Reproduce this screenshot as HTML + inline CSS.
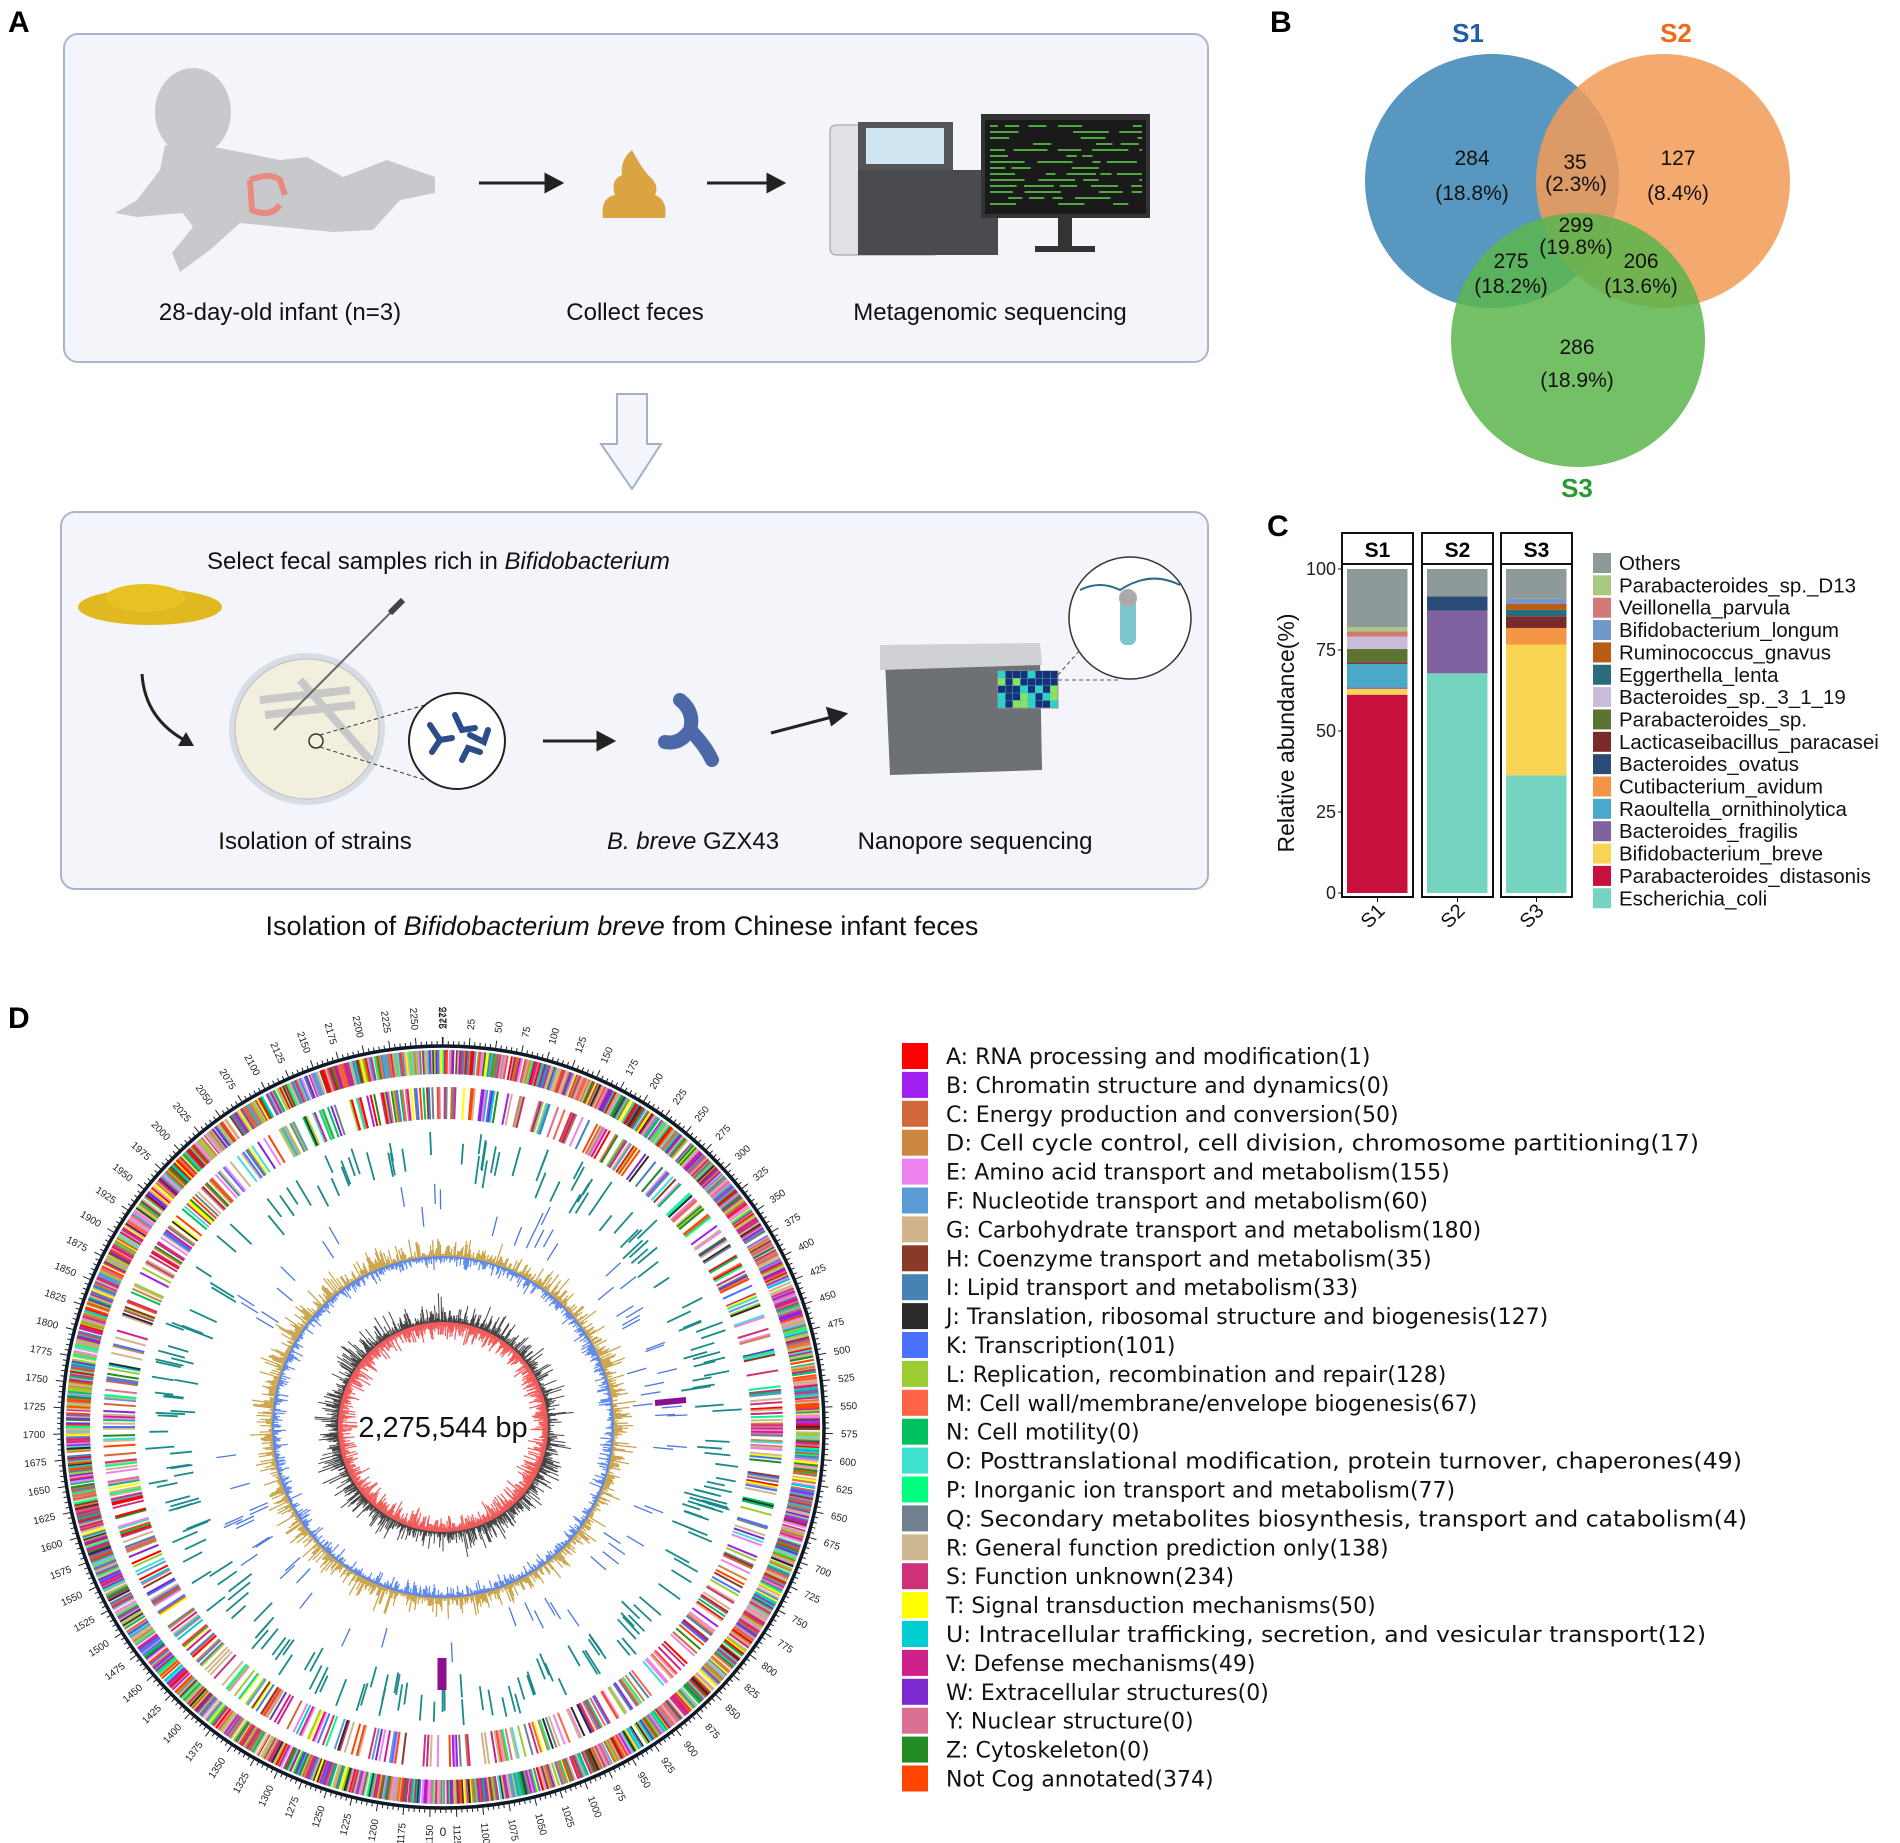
<!DOCTYPE html>
<html><head><meta charset="utf-8"><style>
html,body{margin:0;padding:0;background:#fff}
svg{display:block}
text{font-family:"Liberation Sans",sans-serif}
.lg text{font-family:"DejaVu Sans","Liberation Sans",sans-serif}
</style></head><body>
<svg id="s" width="1900" height="1843" viewBox="0 0 1900 1843" xmlns="http://www.w3.org/2000/svg">
<g font-weight="bold" font-size="30">
<text x="8" y="32">A</text><text x="1270" y="32">B</text><text x="1267" y="536">C</text><text x="8" y="1028">D</text>
</g>
<rect x="64" y="34" width="1144" height="328" rx="14" fill="#f3f5fa" stroke="#a9b5cd" stroke-width="2"/>
<rect x="61" y="512" width="1147" height="377" rx="14" fill="#f3f5fa" stroke="#a9b5cd" stroke-width="2"/>
<path d="M617 394 H647 V444 H661 L632 489 L601 444 H617 Z" fill="#f3f5fa" stroke="#a3b0c8" stroke-width="2"/>
<ellipse cx="193" cy="112" rx="38" ry="44" fill="#c8c9cd"/>
<path d="M165 145 L220 148 L280 160 L307 157 L343 177 L387 160 L435 177 L435 193 L400 200 L373 230 L333 232 L240 223 L210 250 L180 272 L172 253 L193 227 L183 213 L137 217 L115 213 L137 200 L160 170 Z" fill="#c8c9cd"/>
<path d="M250 180 Q270 172 280 180 L285 195 M250 180 L252 210 Q270 218 280 205" fill="none" stroke="#e88a80" stroke-width="6"/>
<g stroke="#222" stroke-width="3" fill="#222">
<line x1="479" y1="183" x2="548" y2="183"/><path d="M561 183 L546 175 L546 191 Z"/>
<line x1="707" y1="183" x2="770" y2="183"/><path d="M783 183 L768 175 L768 191 Z"/>
<line x1="543" y1="741" x2="600" y2="741"/><path d="M613 741 L598 733 L598 749 Z"/>
<line x1="771" y1="733" x2="832" y2="717"/><path d="M845 714 L828 709 L832 724 Z"/>
</g>
<path d="M603 218 Q600 198 615 195 Q610 180 622 175 Q620 160 632 150 Q640 165 648 175 Q660 185 655 195 Q668 200 665 218 Z" fill="#d9a441"/>
<rect x="830" y="125" width="110" height="130" rx="6" fill="#dfe1e4" stroke="#999"/>
<rect x="858" y="122" width="95" height="48" fill="#555"/>
<rect x="866" y="128" width="78" height="36" fill="#cfe6f0"/>
<rect x="858" y="170" width="140" height="85" fill="#4a4b4e"/>
<rect x="981" y="114" width="169" height="104" fill="#333"/>
<rect x="985" y="120" width="161" height="94" fill="#1a1a1a"/>
<g stroke="#5ed84a" stroke-width="1.5" id="code"></g>
<rect x="1058" y="218" width="14" height="28" fill="#333"/><rect x="1035" y="246" width="60" height="6" fill="#333"/>
<g font-size="24" text-anchor="middle" fill="#111">
<text x="280" y="320">28-day-old infant (n=3)</text>
<text x="635" y="320">Collect feces</text>
<text x="990" y="320">Metagenomic sequencing</text>
<text x="207" y="569" text-anchor="start">Select fecal samples rich in <tspan font-style="italic">Bifidobacterium</tspan></text>
<text x="315" y="849">Isolation of strains</text>
<text x="693" y="849"><tspan font-style="italic">B. breve</tspan> GZX43</text>
<text x="975" y="849">Nanopore sequencing</text>
<text x="622" y="935" font-size="27">Isolation of <tspan font-style="italic">Bifidobacterium breve</tspan> from Chinese infant feces</text>
</g>
<ellipse cx="150" cy="607" rx="72" ry="18" fill="#e0b820"/>
<ellipse cx="145" cy="598" rx="40" ry="14" fill="#e8c222"/>
<path d="M142 674 Q145 720 188 742" fill="none" stroke="#222" stroke-width="3"/><path d="M194 746 L178 746 L186 732 Z" fill="#222"/>
<ellipse cx="307" cy="729" rx="78" ry="76" fill="#d8dde5"/>
<ellipse cx="307" cy="729" rx="72" ry="70" fill="#f3efdf" stroke="#bbb"/>
<path d="M260 700 L350 690 M265 715 L355 705 M300 680 L370 760" stroke="#b5b8bd" stroke-width="8" fill="none" opacity=".7"/>
<line x1="403" y1="600" x2="274" y2="730" stroke="#666" stroke-width="2"/>
<line x1="403" y1="600" x2="390" y2="613" stroke="#444" stroke-width="6"/>
<circle cx="316" cy="741" r="7" fill="none" stroke="#333" stroke-width="1.5"/>
<line x1="320" y1="735" x2="425" y2="705" stroke="#333" stroke-dasharray="4 3"/>
<line x1="320" y1="747" x2="425" y2="780" stroke="#333" stroke-dasharray="4 3"/>
<circle cx="457" cy="741" r="48" fill="#fff" stroke="#222" stroke-width="2"/>
<g stroke="#2b4d8a" stroke-width="6" stroke-linecap="round" fill="none">
<path d="M430 725 L440 740 L432 752 M440 740 L452 738"/><path d="M455 715 L462 730 L475 728"/><path d="M462 760 L468 748 L480 752"/><path d="M470 735 L484 742 L488 730"/>
</g>
<path d="M680 700 Q695 712 690 730 Q680 745 665 742 M690 730 Q705 745 712 760" fill="none" stroke="#4c68a8" stroke-width="14" stroke-linecap="round"/>
<path d="M885 660 L1040 660 L1042 770 L890 775 Z" fill="#6d7074"/>
<path d="M880 645 L1040 643 L1042 665 L880 670 Z" fill="#cfd1d4"/>
<rect x="998" y="671" width="60" height="37" fill="#2fd0c8" stroke="#999"/>
<g id="grid"></g>
<circle cx="1130" cy="618" r="61" fill="#fff" stroke="#333" stroke-width="1.5"/>
<line x1="1058" y1="675" x2="1080" y2="650" stroke="#555" stroke-dasharray="4 3"/>
<line x1="1058" y1="680" x2="1120" y2="680" stroke="#555" stroke-dasharray="4 3"/>
<path d="M1080 590 Q1100 580 1120 590 Q1150 570 1180 585" fill="none" stroke="#2a6a8a" stroke-width="2"/>
<rect x="1120" y="595" width="16" height="50" rx="6" fill="#7cc6cf"/><circle cx="1128" cy="598" r="9" fill="#aaa"/>
<circle cx="1492" cy="181" r="127" fill="#4a8fbb" opacity=".92"/>
<circle cx="1663" cy="181" r="127" fill="#f29a56" opacity=".85"/>
<circle cx="1578" cy="340" r="127" fill="#5ab54c" opacity=".85"/>
<g font-size="26" font-weight="bold" text-anchor="middle">
<text x="1468" y="42" fill="#1f5fa8">S1</text><text x="1676" y="42" fill="#ee6a1a">S2</text><text x="1577" y="497" fill="#2a9a30">S3</text>
</g>
<g font-size="21" text-anchor="middle" fill="#111">
<text x="1472" y="165">284</text><text x="1472" y="200">(18.8%)</text>
<text x="1575" y="169">35</text><text x="1576" y="191">(2.3%)</text>
<text x="1678" y="165">127</text><text x="1678" y="200">(8.4%)</text>
<text x="1576" y="232">299</text><text x="1576" y="254">(19.8%)</text>
<text x="1511" y="268">275</text><text x="1511" y="293">(18.2%)</text>
<text x="1641" y="268">206</text><text x="1641" y="293">(13.6%)</text>
<text x="1577" y="354">286</text><text x="1577" y="387">(18.9%)</text>
</g>
<g id="bars"></g>
<g font-size="18" fill="#222" text-anchor="end">
<text x="1336" y="575">100</text><text x="1336" y="656">75</text><text x="1336" y="737">50</text><text x="1336" y="818">25</text><text x="1336" y="899">0</text>
</g>
<text transform="translate(1294,733) rotate(-90)" font-size="23" text-anchor="middle" fill="#111">Relative abundance(%)</text>
<g font-size="20" fill="#111" id="xl"></g>
<g id="leg" font-size="20.5" fill="#111"></g>
<g id="circ"></g>
<text x="443" y="1437" font-size="29" text-anchor="middle" fill="#111">2,275,544 bp</text>
<g class="lg" id="cog" font-size="22" fill="#111"></g>
</svg>
<script>
var NS="http://www.w3.org/2000/svg";
function el(p,t,a,txt){var e=document.createElementNS(NS,t);for(var k in a)e.setAttribute(k,a[k]);if(txt!==undefined)e.textContent=txt;p.appendChild(e);return e;}
var seed=7;function rnd(){seed=(seed*16807)%2147483647;return seed/2147483647;}
var code=document.getElementById('code');
for(var y=126;y<210;y+=6){var x=990;while(x<1140){var w=8+rnd()*30;if(rnd()>.3)el(code,'line',{x1:x,y1:y,x2:Math.min(x+w,1142),y2:y});x+=w+4+rnd()*10;}}
var grid=document.getElementById('grid');
for(var i=0;i<8;i++)for(var j=0;j<5;j++){var c=['#1b2e7a','#2fd0c8','#8fe05a','#1b2e7a'][Math.floor(rnd()*4)];el(grid,'rect',{x:998+i*7.5,y:671+j*7.4,width:7,height:7,fill:c});}
var bars=document.getElementById('bars');
var col={oth:'#8e9a9a',d13:'#a8c97f',vei:'#d07a78',lon:'#7098c8',rum:'#b85b14',egg:'#2a6b7c',b3:'#c9bcd8',psp:'#5c7332',lac:'#7a2a2a',ova:'#2a4a78',cut:'#f49545',rao:'#4aa8c8',fra:'#8062a0',bre:'#f8d452',dis:'#c8103c',eco:'#74d4c0'};
var data=[
[1347,[['dis',61.2],['bre',1.8],['fra',.5],['rao',7.2],['lac',.5],['psp',4.1],['b3',3.8],['vei',1.6],['d13',1.3],['oth',18]]],
[1427,[['eco',67.8],['fra',19.4],['ova',4.3],['oth',8.5]]],
[1506,[['eco',36.3],['bre',40.4],['cut',5.1],['lac',3.6],['egg',2],['rum',1.9],['lon',1.5],['oth',9.2]]]];
var y0=893,k=3.24,names=['S1','S2','S3'];
data.forEach(function(d,i){var px=d[0]-5;
 el(bars,'rect',{x:px,y:564,width:71,height:333,fill:'#fff',stroke:'#111','stroke-width':2});
 el(bars,'rect',{x:px,y:533,width:71,height:31,fill:'#fff',stroke:'#111','stroke-width':2});
 el(bars,'text',{x:px+35.5,y:557,'font-size':21,'font-weight':'bold','text-anchor':'middle'},names[i]);
 var cum=0;d[1].forEach(function(s){el(bars,'rect',{x:d[0],y:y0-(cum+s[1])*k,width:60.5,height:s[1]*k,fill:col[s[0]]});cum+=s[1];});
 el(bars,'line',{x1:px+35.5,y1:897,x2:px+35.5,y2:902,stroke:'#111'});
 el(document.getElementById('xl'),'text',{transform:'translate('+(px+44)+',912) rotate(-45)','text-anchor':'end'},names[i]);
});
[569,650,731,812,893].forEach(function(y){el(bars,'line',{x1:1338,y1:y,x2:1342,y2:y,stroke:'#111'});});
var leg=document.getElementById('leg');
var ln=[['oth','Others'],['d13','Parabacteroides_sp._D13'],['vei','Veillonella_parvula'],['lon','Bifidobacterium_longum'],['rum','Ruminococcus_gnavus'],['egg','Eggerthella_lenta'],['b3','Bacteroides_sp._3_1_19'],['psp','Parabacteroides_sp.'],['lac','Lacticaseibacillus_paracasei'],['ova','Bacteroides_ovatus'],['cut','Cutibacterium_avidum'],['rao','Raoultella_ornithinolytica'],['fra','Bacteroides_fragilis'],['bre','Bifidobacterium_breve'],['dis','Parabacteroides_distasonis'],['eco','Escherichia_coli']];
ln.forEach(function(l,i){var y=563+i*22.35;el(leg,'rect',{x:1593,y:y-10,width:18,height:20,fill:col[l[0]]});el(leg,'text',{x:1619,y:y+7},l[1]);});
var cogs=[['#ff0000','A: RNA processing and modification(1)'],['#a020f0','B: Chromatin structure and dynamics(0)'],['#d2693c','C: Energy production and conversion(50)'],['#cd853f','D: Cell cycle control, cell division, chromosome partitioning(17)'],['#ee82ee','E: Amino acid transport and metabolism(155)'],['#5b9bd5','F: Nucleotide transport and metabolism(60)'],['#d2b48c','G: Carbohydrate transport and metabolism(180)'],['#8b3a2a','H: Coenzyme transport and metabolism(35)'],['#4682b4','I: Lipid transport and metabolism(33)'],['#2b2b2b','J: Translation, ribosomal structure and biogenesis(127)'],['#4a72ff','K: Transcription(101)'],['#9acd32','L: Replication, recombination and repair(128)'],['#ff6347','M: Cell wall/membrane/envelope biogenesis(67)'],['#00c060','N: Cell motility(0)'],['#40e0d0','O: Posttranslational modification, protein turnover, chaperones(49)'],['#00ff7f','P: Inorganic ion transport and metabolism(77)'],['#708090','Q: Secondary metabolites biosynthesis, transport and catabolism(4)'],['#cdb891','R: General function prediction only(138)'],['#cd3278','S: Function unknown(234)'],['#ffff00','T: Signal transduction mechanisms(50)'],['#00ced1','U: Intracellular trafficking, secretion, and vesicular transport(12)'],['#d0208c','V: Defense mechanisms(49)'],['#7b2ad0','W: Extracellular structures(0)'],['#db7093','Y: Nuclear structure(0)'],['#228b22','Z: Cytoskeleton(0)'],['#ff4500','Not Cog annotated(374)']];
var cg=document.getElementById('cog');
var widths={3:753,14:796,16:801,20:760};
cogs.forEach(function(c,i){var y=1056+i*28.9;el(cg,'rect',{x:902,y:y-13,width:26,height:26,fill:c[0]});var a={x:946,y:y+8};if(widths[i]){a.textLength=widths[i];a.lengthAdjust='spacingAndGlyphs';}el(cg,'text',a,c[1]);});
var C=document.getElementById('circ'),cx=443,cy=1427;
var pal=cogs.map(function(c){return c[0]}).concat(['#d2b48c','#cd3278','#ff4500','#d2b48c','#ee82ee','#9acd32']);
function rl(a,r1,r2,st,w){var s=Math.sin(a),c=-Math.cos(a);el(C,'line',{x1:(cx+r1*s).toFixed(1),y1:(cy+r1*c).toFixed(1),x2:(cx+r2*s).toFixed(1),y2:(cy+r2*c).toFixed(1),stroke:st,'stroke-width':w});}
var T=2*Math.PI;
for(var i=0;i<1400;i++){var a=T*i/1400+rnd()*.002;if(rnd()<.93)rl(a,353,377,pal[Math.floor(rnd()*pal.length)],2.2);}
for(var i=0;i<1200;i++){var a=T*i/1200;if(rnd()<.45)rl(a,308,340,pal[Math.floor(rnd()*pal.length)],2);}
for(var i=0;i<200;i++){var a=rnd()*T;var r=270+rnd()*30;rl(a,r-18-rnd()*12,r,'#1a8a8a',1.8);}
for(var i=0;i<70;i++){var a=rnd()*T;var r=210+rnd()*35;rl(a,r-20,r,'#4a78e0',1.3);}
for(var i=0;i<900;i++){var a=T*i/900;var h=rnd()*rnd()*26+2;rl(a,170,170+h,'#c9a040',1.2);var h2=rnd()*rnd()*14+1;rl(a,170-h2,170,'#5a86f0',1.2);}
el(C,'circle',{cx:cx,cy:cy,r:170,fill:'none',stroke:'#5a86f0','stroke-width':1.5});
for(var i=0;i<900;i++){var a=T*i/900;var h=rnd()*rnd()*28+2;rl(a,104,104+h,'#444',1);var h2=rnd()*rnd()*20+2;rl(a,104-h2,104,'#f25a5a',1.2);}
el(C,'circle',{cx:cx,cy:cy,r:104,fill:'none',stroke:'#f25a5a','stroke-width':2});
el(C,'line',{x1:655,y1:1403,x2:686,y2:1400,stroke:'#8a1090','stroke-width':6});
el(C,'line',{x1:442,y1:1658,x2:442,y2:1690,stroke:'#8a1090','stroke-width':9});
el(C,'circle',{cx:cx,cy:cy,r:381,fill:'none',stroke:'#0d1a2a','stroke-width':3.5});
var G=2275.544;
for(var kb=0;kb<G;kb+=5){var a=T*kb/G;var big=(kb%25===0);rl(a,382,big?390:386,'#222',1);
 if(big&&kb>0){var ang=a*180/Math.PI;var r=398;var s=Math.sin(a),c=-Math.cos(a);var x=(cx+r*s).toFixed(1),y=(cy+r*c).toFixed(1);
  var rot,anc;if(ang<=180){rot=ang-90;anc='start';}else{rot=ang+90;anc='end';}
  el(C,'text',{x:x,y:y,dy:'3.5','font-size':10,fill:'#222','text-anchor':anc,transform:'rotate('+rot.toFixed(1)+' '+x+' '+y+')'},kb+'');}}
el(C,'text',{x:cx,y:cy-398,dy:'3.5','font-size':10,fill:'#222','text-anchor':'start',transform:'rotate(-90 '+cx+' '+(cy-398)+')'},'2275');
el(C,'text',{x:443,y:1836,'font-size':12,'text-anchor':'middle',fill:'#222'},'0');
</script>
</body></html>
